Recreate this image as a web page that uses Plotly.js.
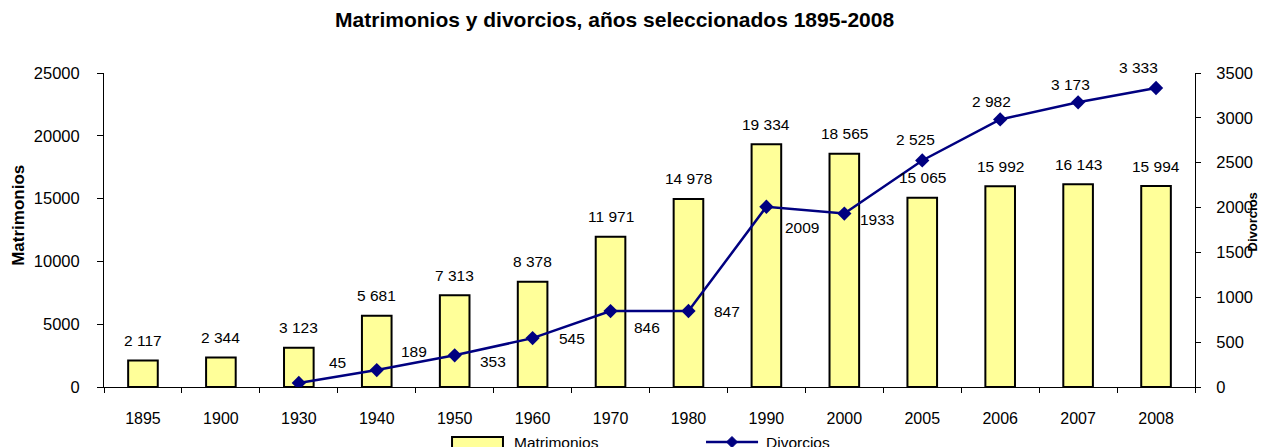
<!DOCTYPE html>
<html>
<head>
<meta charset="utf-8">
<script src="https://cdn.plot.ly/plotly-3.0.1.min.js"></script>
<style>html,body{margin:0;padding:0;background:#fff;}#chart{width:1271px;height:447px;}</style>
</head>
<body>
<div id="chart"></div>
<script>
// ---- data ----
const years = ["1895","1900","1930","1940","1950","1960","1970","1980","1990","2000","2005","2006","2007","2008"];
const matrimonios = [2117,2344,3123,5681,7313,8378,11971,14978,19334,18565,15065,15992,16143,15994];
const divorcioYears = ["1930","1940","1950","1960","1970","1980","1990","2000","2005","2006","2007","2008"];
const divorcios = [45,189,353,545,846,847,2009,1933,2525,2982,3173,3333];
const yLeftTicks = [0,5000,10000,15000,20000,25000];
const yRightTicks = [0,500,1000,1500,2000,2500,3000,3500];

// ---- styles ----
const FONT = "Liberation Sans, Arial, sans-serif";
const divLabelShift = [[39,20],[37,19],[38,-6],[39,0],[36,-16],[39,0],[36,-21],[33,-6],[-7,21],[-9,18],[-8,18],[-18,20]];

function grouped(v){ return String(v).replace(/\B(?=(\d{3})+(?!\d))/g, "\u00a0"); }

const annotations = [];
years.forEach((yr,i)=>{
  annotations.push({xref:'x', yref:'y', x:i, y:matrimonios[i], text:grouped(matrimonios[i]),
    showarrow:false, xanchor:'center', yanchor:'middle', yshift:20,
    font:{family:FONT, size:15.5, color:'#000'}});
});
divorcioYears.forEach((yr,i)=>{
  const txt = (+yr > 2000) ? grouped(divorcios[i]) : String(divorcios[i]);
  annotations.push({xref:'x', yref:'y2', x:years.indexOf(yr), y:divorcios[i], text:txt,
    showarrow:false, xanchor:'center', yanchor:'middle',
    xshift:divLabelShift[i][0], yshift:divLabelShift[i][1],
    font:{family:FONT, size:15.5, color:'#000'}});
});
// axis titles
annotations.push({xref:'paper', yref:'paper', x:-0.078, y:0.548, text:'<b>Matrimonios</b>', textangle:-90,
  showarrow:false, xanchor:'center', yanchor:'middle', font:{family:FONT, size:17, color:'#000'}});
annotations.push({xref:'paper', yref:'paper', x:1.0525, y:0.525, text:'<b>Divorcios</b>', textangle:-90,
  showarrow:false, xanchor:'center', yanchor:'middle', font:{family:FONT, size:13, color:'#000'}});
// legend texts
annotations.push({xref:'paper', yref:'paper', x:0.374, y:-0.1752, text:'Matrimonios',
  showarrow:false, xanchor:'left', yanchor:'middle', font:{family:FONT, size:15.5, color:'#000'}});
annotations.push({xref:'paper', yref:'paper', x:0.605, y:-0.1752, text:'Divorcios',
  showarrow:false, xanchor:'left', yanchor:'middle', font:{family:FONT, size:15.5, color:'#000'}});

const shapes = [
  {type:'rect', xref:'paper', yref:'paper', x0:0.319, x1:0.3657, y0:-0.1592, y1:-0.215,
   fillcolor:'#FFFF99', line:{color:'#000', width:2}},
  {type:'line', xref:'paper', yref:'paper', x0:0.5518, x1:0.5995, y0:-0.1752, y1:-0.1752,
   line:{color:'#000080', width:2.5}},
  {type:'path', xref:'paper', yref:'paper', xsizemode:'pixel', ysizemode:'pixel',
   xanchor:0.5756, yanchor:-0.1752, path:'M-5.5,0L0,5.5L5.5,0L0,-5.5Z',
   fillcolor:'#000080', line:{color:'#000080', width:1}}
];

const traces = [
  {type:'bar', name:'Matrimonios', x:years, y:matrimonios, yaxis:'y',
   marker:{color:'#FFFF99', line:{color:'#000', width:2}}, hoverinfo:'x+y'},
  {type:'scatter', mode:'lines+markers', name:'Divorcios', x:divorcioYears, y:divorcios, yaxis:'y2',
   line:{color:'#000080', width:2.5}, marker:{symbol:'diamond', size:11, color:'#000080'}}
];

const layout = {
  width:1271, height:447,
  margin:{l:104, r:76, t:73, b:60, pad:0},
  paper_bgcolor:'#fff', plot_bgcolor:'#fff',
  showlegend:false,
  bargap:0.62,
  font:{family:FONT, color:'#000'},
  title:{text:'<b>Matrimonios y divorcios, años seleccionados 1895-2008</b>',
    font:{family:FONT, size:21, color:'#000'}, xref:'paper', x:0.468, xanchor:'center',
    yref:'container', y:0.955, yanchor:'middle'},
  xaxis:{type:'category', categoryorder:'array', categoryarray:years, range:[-0.5, years.length-0.5],
    autorange:false, showline:true, linecolor:'#000', linewidth:1, showgrid:false, zeroline:false,
    ticks:'outside', tickson:'boundaries', ticklen:5, tickcolor:'#000', tickangle:0,
    ticklabelstandoff:17, tickfont:{family:FONT, size:16, color:'#000'}},
  yaxis:{range:[0,25000], autorange:false, tickvals:yLeftTicks, tickformat:'d',
    showline:true, linecolor:'#000', linewidth:1, showgrid:false, zeroline:false,
    ticks:'outside', ticklen:6, tickcolor:'#000', ticklabelstandoff:14,
    tickfont:{family:FONT, size:16.5, color:'#000'}},
  yaxis2:{range:[0,3500], autorange:false, tickvals:yRightTicks, tickformat:'d', overlaying:'y', side:'right',
    showline:true, linecolor:'#000', linewidth:1, showgrid:false, zeroline:false,
    ticks:'outside', ticklen:5, tickcolor:'#000', ticklabelstandoff:12,
    tickfont:{family:FONT, size:16.5, color:'#000'}},
  annotations:annotations,
  shapes:shapes
};

Plotly.newPlot('chart', traces, layout, {displayModeBar:false, staticPlot:true});
</script>
</body>
</html>
